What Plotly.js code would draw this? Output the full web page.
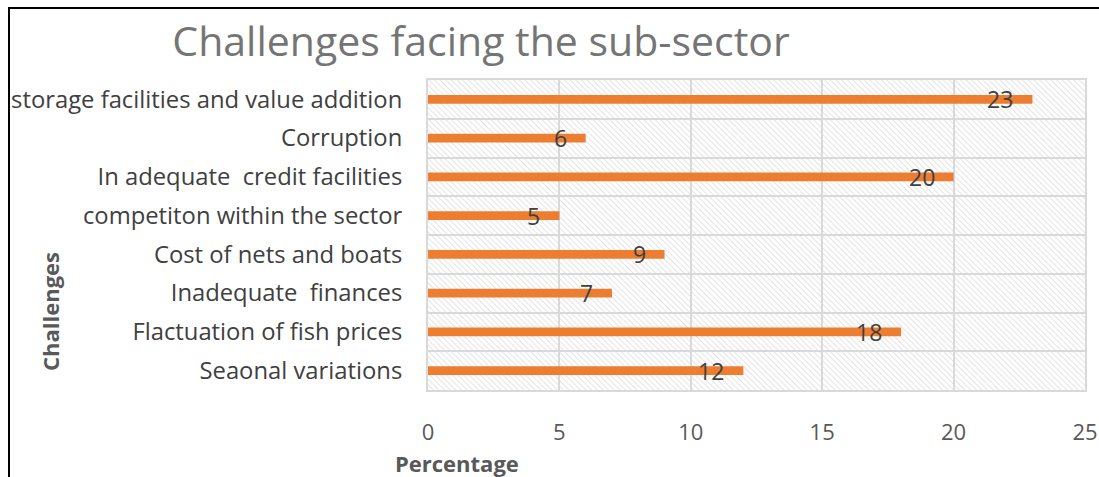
<!DOCTYPE html>
<html>
<head>
<meta charset="utf-8">
<script src="https://cdn.plot.ly/plotly-3.0.1.min.js"></script>
<style>
  html, body { margin: 0; padding: 0; background: #fff; }
  #wrap { position: relative; width: 1099px; height: 477px; overflow: hidden; }
  #chart { width: 1099px; height: 477px; }
  #frame { position: absolute; left: 8px; top: 7px; width: 1200px; height: 600px;
           border-left: 2px solid #000; border-top: 2px solid #000; pointer-events: none; }
</style>
</head>
<body>
<div id="wrap">
  <div id="chart"></div>
  <div id="frame"></div>
</div>
<script>
// Data (bottom to top as drawn)
const categories = [
  "Seaonal variations",
  "Flactuation of fish prices",
  "Inadequate  finances",
  "Cost of nets and boats",
  "competiton within the sector",
  "In adequate  credit facilities",
  "Corruption",
  "storage facilities and value addition"
];
const percentages = [12, 18, 7, 9, 5, 20, 6, 23];
const xTickValues = [0, 5, 10, 15, 20, 25];
const chartTitle = "Challenges facing the sub-sector";
const xTitle = "Percentage";
const yTitle = "Challenges";

const FONT = "'Open Sans', sans-serif";
const plotW = 1099 - 428 - 14, plotH = 477 - 80 - 87;

// hatch background image
const hatchSvg = `<svg xmlns="http://www.w3.org/2000/svg" width="${plotW}" height="${plotH}">
<defs><pattern id="h" width="4" height="4" patternUnits="userSpaceOnUse" patternTransform="rotate(-45)">
<line x1="0" y1="0" x2="0" y2="4" stroke="#d6d6d6" stroke-width="1.3"/></pattern></defs>
<rect width="100%" height="100%" fill="#fff"/>
<rect width="100%" height="100%" fill="url(#h)"/></svg>`;
const hatchUri = "data:image/svg+xml;base64," + btoa(hatchSvg);

const trace = {
  type: "bar",
  orientation: "h",
  x: percentages,
  y: categories,
  width: 0.22,
  marker: { color: "#ED7D31" },
  hoverinfo: "x+y"
};

const annotations = categories.map((c, i) => ({
  x: percentages[i], y: c, xref: "x", yref: "y",
  text: String(percentages[i]),
  showarrow: false, xanchor: "right", yanchor: "middle", xshift: -17,
  font: { family: FONT, size: 23, color: "#404040" }
}));
annotations.push({
  xref: "paper", yref: "paper",
  x: (457 - 428) / plotW, y: -(463 - 390) / plotH,
  text: "<b>" + xTitle + "</b>", showarrow: false,
  xanchor: "center", yanchor: "middle",
  font: { family: FONT, size: 22, color: "#595959" }
});
annotations.push({
  xref: "paper", yref: "paper",
  x: (50 - 428) / plotW, y: (390 - 312) / plotH,
  text: "<b>" + yTitle + "</b>", showarrow: false, textangle: -90,
  xanchor: "center", yanchor: "middle",
  font: { family: FONT, size: 22, color: "#595959" }
});

const layout = {
  width: 1099, height: 477,
  margin: { l: 428, r: 14, t: 80, b: 87, pad: 0 },
  paper_bgcolor: "#fff",
  plot_bgcolor: "rgba(0,0,0,0)",
  showlegend: false,
  title: {
    text: chartTitle,
    font: { family: FONT, size: 41, color: "#757575" },
    xref: "container", yref: "container",
    x: 481 / 1099, xanchor: "center",
    y: 1 - 42 / 477, yanchor: "middle"
  },
  xaxis: {
    range: [0, 25],
    tickvals: xTickValues,
    ticktext: xTickValues.map(String),
    showgrid: true, gridcolor: "#d9d9d9", gridwidth: 2,
    zeroline: false,
    showline: true, linecolor: "#d9d9d9", linewidth: 2, mirror: true,
    ticks: "", ticklabelstandoff: 22,
    tickfont: { family: FONT, size: 22, color: "#595959" },
    fixedrange: true
  },
  yaxis: {
    type: "category",
    categoryorder: "array", categoryarray: categories,
    tickson: "boundaries",
    showgrid: true, gridcolor: "#d9d9d9", gridwidth: 2,
    showline: true, linecolor: "#d9d9d9", linewidth: 2, mirror: true,
    ticks: "", ticklabelstandoff: 19,
    tickfont: { family: FONT, size: 23.8, color: "#404040" },
    fixedrange: true
  },
  images: [{
    source: hatchUri, xref: "paper", yref: "paper",
    x: 0, y: 1, sizex: 1, sizey: 1, sizing: "stretch",
    xanchor: "left", yanchor: "top", layer: "below"
  }],
  annotations: annotations
};

Plotly.newPlot("chart", [trace], layout, { displayModeBar: false, staticPlot: true });
</script>
</body>
</html>
